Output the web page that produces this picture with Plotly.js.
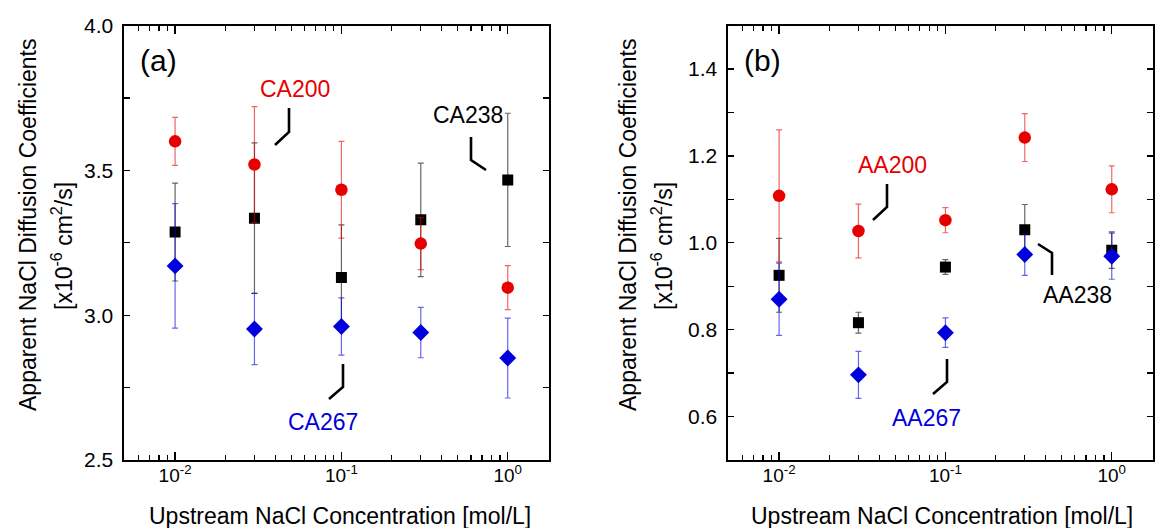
<!DOCTYPE html>
<html>
<head>
<meta charset="utf-8">
<script src="https://cdn.plot.ly/plotly-3.0.1.min.js"></script>
<style>
html,body{margin:0;padding:0;background:#fff;}
#chart{width:1157px;height:528px;}
</style>
</head>
<body>
<div id="chart"></div>
<script>
// ---------- data ----------
const conc = [0.01, 0.03, 0.1, 0.3, 1.0];

// Panel (a): CA membranes
const CA200 = [3.600, 3.520, 3.433, 3.247, 3.095];
const CA200_err = [0.083, 0.200, 0.167, 0.090, 0.076];
const CA238 = [3.287, 3.335, 3.130, 3.329, 3.467];
const CA238_err = [0.169, 0.260, 0.182, 0.196, 0.230];
const CA267 = [3.170, 2.952, 2.961, 2.940, 2.852];
const CA267_err = [0.215, 0.123, 0.099, 0.087, 0.138];

// Panel (b): AA membranes
const AA200 = [1.108, 1.027, 1.052, 1.242, 1.123];
const AA200_err = [0.152, 0.062, 0.029, 0.055, 0.054];
const AA238 = [0.925, 0.816, 0.944, 1.030, 0.983];
const AA238_err = [0.085, 0.024, 0.017, 0.058, 0.042];
const AA267 = [0.870, 0.696, 0.793, 0.973, 0.969];
const AA267_err = [0.083, 0.054, 0.034, 0.048, 0.053];

// tick labels
const xTickVals = [0.01, 0.1, 1];
const xTickText = ['10<sup>-2</sup>', '10<sup>-1</sup>', '10<sup>0</sup>'];
const xMinorVals = [0.006,0.007,0.008,0.009,0.02,0.03,0.04,0.05,0.06,0.07,0.08,0.09,0.2,0.3,0.4,0.5,0.6,0.7,0.8,0.9];
const yTickValsA = [2.5, 3.0, 3.5, 4.0];
const yTickTextA = ['2.5', '3.0', '3.5', '4.0'];
const yTickValsB = [0.6, 0.8, 1.0, 1.2, 1.4];
const yTickTextB = ['0.6', '0.8', '1.0', '1.2', '1.4'];

// ---------- styles ----------
const RED = '#e60000', BLACK = '#000000', BLUE = '#0000dd';
const RED_EB = 'rgba(230,0,0,0.6)', BLACK_EB = 'rgba(0,0,0,0.6)', BLUE_EB = 'rgba(0,0,221,0.6)';
const FONT = 'Liberation Sans, Arial, Helvetica, sans-serif';

function series(y, err, xa, ya, color, ebColor, symbol, size) {
  return {
    x: conc, y: y, xaxis: xa, yaxis: ya, type: 'scatter', mode: 'markers',
    marker: {color: color, symbol: symbol, size: size, line: {width: 0}},
    error_y: {type: 'data', array: err, visible: true, color: ebColor, thickness: 1.2, width: 3},
    showlegend: false, hoverinfo: 'x+y'
  };
}

const traces = [
  series(CA238, CA238_err, 'x', 'y', BLACK, BLACK_EB, 'square', 11),
  series(CA267, CA267_err, 'x', 'y', BLUE, BLUE_EB, 'diamond', 13),
  series(CA200, CA200_err, 'x', 'y', RED, RED_EB, 'circle', 12.5),
  series(AA238, AA238_err, 'x2', 'y2', BLACK, BLACK_EB, 'square', 11),
  series(AA267, AA267_err, 'x2', 'y2', BLUE, BLUE_EB, 'diamond', 13),
  series(AA200, AA200_err, 'x2', 'y2', RED, RED_EB, 'circle', 12.5)
];

const W = 1157, H = 528;
const px = v => v / W;
const py = v => 1 - v / H;

function xAxis(domain, anchor) {
  return {
    type: 'log', domain: domain, anchor: anchor,
    range: [Math.log10(0.00493), Math.log10(1.77)],
    tickmode: 'array', tickvals: xTickVals, ticktext: xTickText,
    ticks: 'inside', ticklen: 8, tickwidth: 1.3, tickcolor: '#000',
    minor: {tickmode: 'array', tickvals: xMinorVals, ticks: 'inside', ticklen: 5, tickwidth: 1.3, tickcolor: '#000', showgrid: false},
    showline: true, linecolor: '#000', linewidth: 1.6, mirror: 'allticks',
    showgrid: false, zeroline: false,
    tickfont: {family: FONT, size: 19, color: '#000'},
    ticklabelstandoff: -2, automargin: false, fixedrange: true
  };
}
function yAxis(domain, anchor, range, tv, tt, minorStep) {
  return {
    domain: domain, anchor: anchor, range: range,
    tickmode: 'array', tickvals: tv, ticktext: tt,
    ticks: 'inside', ticklen: 6, tickwidth: 1.3, tickcolor: '#000',
    minor: {dtick: minorStep, ticks: 'inside', ticklen: 6, tickwidth: 1.3, tickcolor: '#000', showgrid: false},
    showline: true, linecolor: '#000', linewidth: 1.6, mirror: 'allticks',
    showgrid: false, zeroline: false,
    tickfont: {family: FONT, size: 21, color: '#000'},
    ticklabelstandoff: 5, automargin: false, fixedrange: true
  };
}

const yDom = [py(460), py(25.5)];

function ann(text, x, y, size, color, angle) {
  return {
    text: text, xref: 'paper', yref: 'paper', x: px(x), y: py(y),
    xanchor: 'center', yanchor: 'middle', showarrow: false,
    textangle: angle || 0,
    font: {family: FONT, size: size, color: color}
  };
}
function leader(pts) {
  let d = 'M ' + pts.map(p => px(p[0]) + ' ' + py(p[1])).join(' L ');
  return {type: 'path', xref: 'paper', yref: 'paper', path: d,
          line: {color: '#000', width: 2.6}};
}

const yTitle1 = 'Apparent NaCl Diffusion Coefficients';
const yTitle2 = '[x10<sup>-6</sup> cm<sup>2</sup>/s]';
const xTitle = 'Upstream NaCl Concentration [mol/L]';

const layout = {
  width: W, height: H,
  margin: {l: 0, r: 0, t: 0, b: 0},
  paper_bgcolor: '#fff', plot_bgcolor: '#fff',
  font: {family: FONT, color: '#000'},
  xaxis: xAxis([px(124), px(549)], 'y'),
  yaxis: yAxis(yDom, 'x', [2.5, 4.0], yTickValsA, yTickTextA, 0.25),
  xaxis2: xAxis([px(728), px(1153)], 'y2'),
  yaxis2: yAxis(yDom, 'x2', [0.5, 1.5], yTickValsB, yTickTextB, 0.1),
  annotations: [
    ann('(a)', 158, 60, 30, '#000'),
    ann('(b)', 762, 60, 30, '#000'),
    ann('CA200', 295, 89, 23, RED),
    ann('CA238', 468, 115, 23, BLACK),
    ann('CA267', 323, 422, 23, BLUE),
    ann('AA200', 892, 165, 23, RED),
    ann('AA238', 1077, 295, 23, BLACK),
    ann('AA267', 926, 418, 23, BLUE),
    ann(yTitle1, 28, 225, 23, '#000', -90),
    ann(yTitle2, 62, 246, 23, '#000', -90),
    ann(yTitle1, 628, 225, 23, '#000', -90),
    ann(yTitle2, 662, 246, 23, '#000', -90),
    ann(xTitle, 340, 516, 23, '#000'),
    ann(xTitle, 942, 516, 23, '#000')
  ],
  shapes: [
    leader([[289, 108], [289, 132], [275, 145]]),
    leader([[471, 137], [471, 160], [486, 170]]),
    leader([[343, 364], [343, 387], [329, 399]]),
    leader([[887, 184], [887, 207], [873, 220]]),
    leader([[1038, 244], [1052, 253], [1052, 275]]),
    leader([[947, 359], [947, 382], [933, 394]])
  ]
};

Plotly.newPlot('chart', traces, layout, {displayModeBar: false, staticPlot: true});
</script>
</body>
</html>
